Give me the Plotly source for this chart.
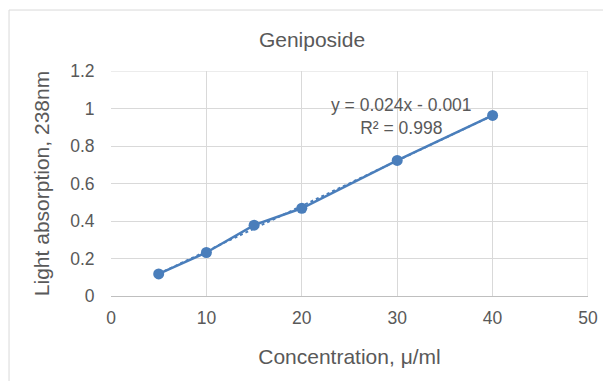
import numpy as np
import plotly.graph_objects as go

concentration = [5, 10, 15, 20, 30, 40]
absorption = [0.118, 0.232, 0.378, 0.468, 0.723, 0.963]
x_ticks = [0, 10, 20, 30, 40, 50]
y_ticks = [0, 0.2, 0.4, 0.6, 0.8, 1.0, 1.2]
y_tick_labels = ["0", "0.2", "0.4", "0.6", "0.8", "1", "1.2"]

slope, intercept = np.polyfit(concentration, absorption, 1)
trend_x = [min(concentration), max(concentration)]
trend_y = [slope * v + intercept for v in trend_x]

blue = "#4a7ebb"
grey = "#595959"
font = "Liberation Sans, Arial, sans-serif"

fig = go.Figure()
fig.add_trace(go.Scatter(x=trend_x, y=trend_y, mode="lines",
                         line=dict(color=blue, width=2, dash="dot"),
                         hoverinfo="skip", showlegend=False))
fig.add_trace(go.Scatter(x=concentration, y=absorption, mode="lines+markers",
                         line=dict(color=blue, width=2.5),
                         marker=dict(color=blue, size=11),
                         showlegend=False))

fig.add_annotation(x=30.5, y=0.96, xref="x", yref="y",
                   text="y = 0.024x - 0.001<br>R² = 0.998",
                   showarrow=False, align="center",
                   font=dict(family=font, size=17.5, color=grey))

fig.add_shape(type="rect", xref="paper", yref="paper",
              x0=-0.2138, x1=1.2, y0=-0.5, y1=1.271,
              line=dict(color="#d9d9d9", width=1), layer="below")

fig.update_layout(
    width=603, height=381,
    margin=dict(l=111, r=15, t=71, b=85, autoexpand=False),
    paper_bgcolor="white", plot_bgcolor="white",
    title=dict(text="Geniposide", x=312 / 603, xref="container",
               xanchor="center",
               y=1 - 40 / 381, yanchor="middle",
               font=dict(family=font, size=21, color=grey)),
    font=dict(family=font, color=grey),
    xaxis=dict(range=[0, 50], tickvals=x_ticks, showgrid=True,
               gridcolor="#d9d9d9", gridwidth=1, zeroline=False,
               showline=True, linecolor="#bfbfbf", mirror=False,
               tickfont=dict(size=17.5, color=grey), ticks="outside",
               ticklen=6, tickcolor="rgba(0,0,0,0)",
               title=dict(text="Concentration, μ/ml", standoff=22,
                          font=dict(size=21, color=grey))),
    yaxis=dict(range=[0, 1.2], tickvals=y_ticks, ticktext=y_tick_labels,
               showgrid=True, gridcolor="#d9d9d9", gridwidth=1,
               zeroline=False, showline=False,
               tickfont=dict(size=17.5, color=grey), ticks="outside",
               ticklen=12, tickcolor="rgba(0,0,0,0)",
               title=dict(text="Light absorption, 238nm", standoff=14,
                          font=dict(size=21, color=grey))),
)
fig.add_shape(type="line", xref="x", yref="paper", x0=50, x1=50, y0=0, y1=1,
              line=dict(color="#d9d9d9", width=1), layer="below")
fig.add_shape(type="line", xref="paper", yref="y", x0=0, x1=1, y0=1.2, y1=1.2,
              line=dict(color="#d9d9d9", width=1), layer="below")

fig.write_html("out.html", config={"displayModeBar": False},
               post_script="document.body.style.margin='0';"
                           "document.body.style.overflow='hidden';")
